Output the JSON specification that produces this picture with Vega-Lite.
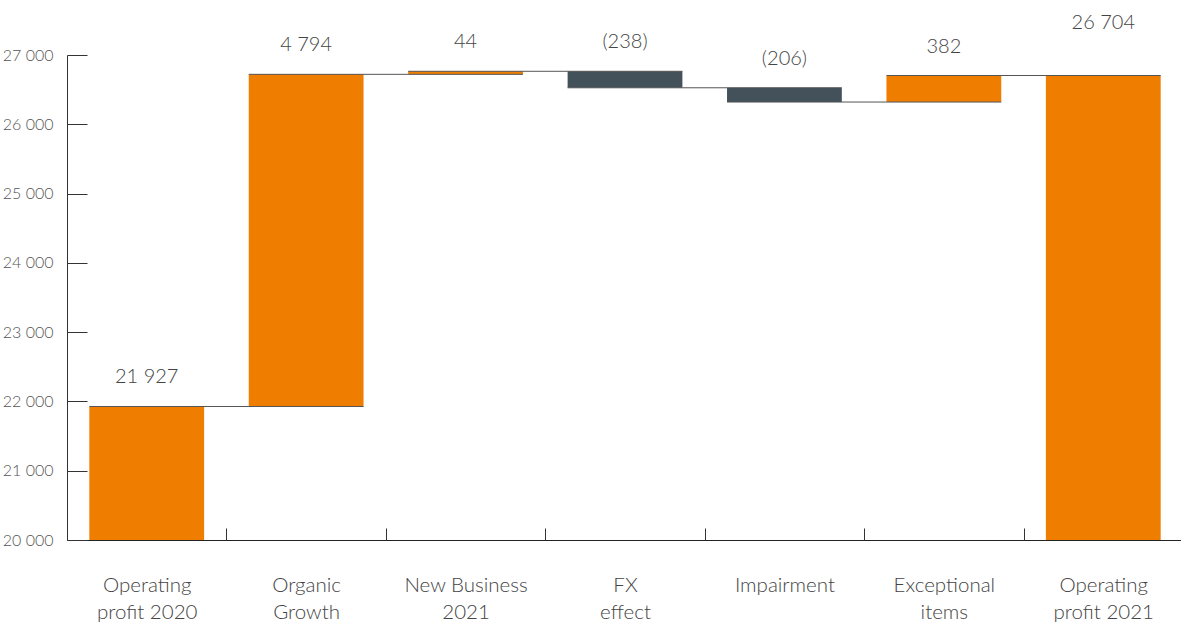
{
  "$schema": "https://vega.github.io/schema/vega-lite/v6.json",
  "autosize": "none",
  "width": 1116,
  "height": 485,
  "padding": {"left": 67, "top": 55, "right": 0, "bottom": 86},
  "config": {
    "view": {"stroke": null},
    "font": "Lato",
    "locale": {"number": {"decimal": ".", "thousands": " ", "grouping": [3], "currency": ["", ""]}}
  },
  "data": {"values": [
    {"cat": "Operating profit 2020", "next": "Organic Growth", "start": 0, "end": 21927, "kind": "total", "label": "21 927"},
    {"cat": "Organic Growth", "next": "New Business 2021", "start": 21927, "end": 26721, "kind": "up", "label": "4 794"},
    {"cat": "New Business 2021", "next": "FX effect", "start": 26721, "end": 26765, "kind": "up", "label": "44"},
    {"cat": "FX effect", "next": "Impairment", "start": 26765, "end": 26527, "kind": "down", "label": "(238)"},
    {"cat": "Impairment", "next": "Exceptional items", "start": 26527, "end": 26321, "kind": "down", "label": "(206)"},
    {"cat": "Exceptional items", "next": "Operating profit 2021", "start": 26321, "end": 26704, "kind": "up", "label": "382"},
    {"cat": "Operating profit 2021", "next": null, "start": 0, "end": 26704, "kind": "total", "label": "26 704"}
  ]},
  "transform": [{"calculate": "max(datum.start, datum.end)", "as": "top"}],
  "encoding": {
    "x": {
      "field": "cat", "type": "nominal", "sort": null,
      "scale": {"paddingInner": 0, "paddingOuter": 0},
      "axis": {
        "title": null, "labelAngle": 0, "tickBand": "extent", "tickSize": -12,
        "tickColor": "#333", "domainColor": "#222", "labelPadding": 47,
        "labelFont": "Lato", "labelFontWeight": 300, "labelFontSize": 20.5, "labelColor": "#444",
        "labelBaseline": "top", "labelLineHeight": 27,
        "labelExpr": "datum.label == 'Operating profit 2020' ? ['Operating', 'profit 2020'] : datum.label == 'Organic Growth' ? ['Organic', 'Growth'] : datum.label == 'New Business 2021' ? ['New Business', '2021'] : datum.label == 'FX effect' ? ['FX', 'effect'] : datum.label == 'Exceptional items' ? ['Exceptional', 'items'] : datum.label == 'Operating profit 2021' ? ['Operating', 'profit 2021'] : datum.label"
      }
    }
  },
  "layer": [
    {
      "mark": {"type": "bar", "width": {"band": 0.72}, "clip": true},
      "encoding": {
        "y": {"field": "start", "type": "quantitative",
          "scale": {"domain": [20000, 27000], "zero": false, "nice": false},
          "axis": {"title": null, "grid": false, "values": [20000, 21000, 22000, 23000, 24000, 25000, 26000, 27000],
            "format": ",d", "tickSize": -20, "tickColor": "#333", "domainColor": "#333", "labelPadding": 34,
            "labelFont": "Lato", "labelFontWeight": 300, "labelFontSize": 16, "labelColor": "#555"}},
        "y2": {"field": "end"},
        "color": {"field": "kind", "type": "nominal", "legend": null,
          "scale": {"domain": ["total", "up", "down"], "range": ["#EF7D00", "#EF7D00", "#43525A"]}}
      }
    },
    {
      "transform": [{"filter": "datum.next != null"}],
      "mark": {"type": "rule", "color": "#555", "strokeWidth": 1},
      "encoding": {
        "x": {"field": "cat", "type": "nominal", "sort": null, "bandPosition": 0.14},
        "x2": {"field": "next", "bandPosition": 0.86},
        "y": {"field": "end", "type": "quantitative"}
      }
    },
    {
      "transform": [{"filter": "datum.cat != 'Operating profit 2021'"}],
      "mark": {"type": "text", "dy": -29, "baseline": "middle", "fontSize": 20, "fontWeight": 300, "color": "#444"},
      "encoding": {
        "y": {"field": "top", "type": "quantitative"},
        "text": {"field": "label"}
      }
    },
    {
      "transform": [{"filter": "datum.cat == 'Operating profit 2021'"}],
      "mark": {"type": "text", "dy": -53, "baseline": "middle", "fontSize": 20, "fontWeight": 300, "color": "#444"},
      "encoding": {
        "y": {"field": "top", "type": "quantitative"},
        "text": {"field": "label"}
      }
    }
  ]
}
